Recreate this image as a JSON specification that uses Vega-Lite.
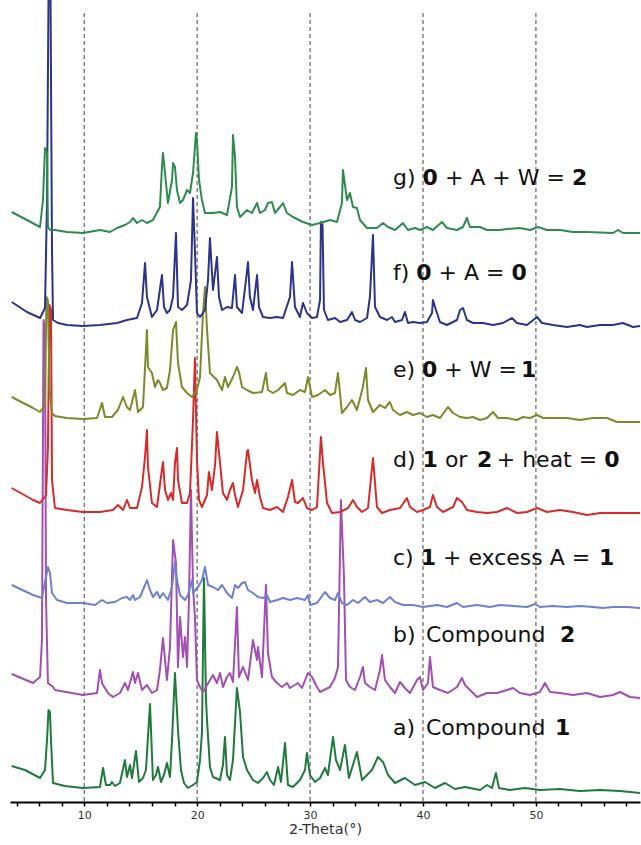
{
"$schema": "https://vega.github.io/schema/vega-lite/v6.json",
"width": 630, "height": 789,
"autosize": {"type": "none"},
"padding": {"left": 10, "top": 13, "right": 1, "bottom": 43},
"background": "white",
"config": {"view": {"stroke": null}},
"datasets": {
"grid": [{"x":10},{"x":20},{"x":30},{"x":40},{"x":50}],
"lab": [
{"s":"g)","b":0,"x":37.34,"y":624},{"s":"0","b":1,"x":39.96,"y":624},{"s":"+ A + W =","b":0,"x":41.94,"y":624},{"s":"2","b":1,"x":53.19,"y":624},
{"s":"f)","b":0,"x":37.34,"y":529},{"s":"0","b":1,"x":39.40,"y":529},{"s":"+ A =","b":0,"x":41.38,"y":529},{"s":"0","b":1,"x":47.84,"y":529},
{"s":"e)","b":0,"x":37.34,"y":432},{"s":"0","b":1,"x":39.92,"y":432},{"s":"+ W =","b":0,"x":41.89,"y":432},{"s":"1","b":1,"x":48.68,"y":432},
{"s":"d)","b":0,"x":37.34,"y":342},{"s":"1","b":1,"x":39.96,"y":342},{"s":"or","b":0,"x":41.94,"y":342},{"s":"2","b":1,"x":44.78,"y":342},{"s":"+ heat =","b":0,"x":46.53,"y":342},{"s":"0","b":1,"x":56.05,"y":342},
{"s":"c)","b":0,"x":37.34,"y":244},{"s":"1","b":1,"x":39.80,"y":244},{"s":"+ excess A =","b":0,"x":41.77,"y":244},{"s":"1","b":1,"x":55.59,"y":244},
{"s":"b)","b":0,"x":37.34,"y":167},{"s":"Compound","b":0,"x":40.26,"y":167},{"s":"2","b":1,"x":52.13,"y":167},
{"s":"a)","b":0,"x":37.34,"y":74},{"s":"Compound","b":0,"x":40.26,"y":74},{"s":"1","b":1,"x":51.69,"y":74}
],
"p": [
{"t":"a","x":3.57,"y":36},{"t":"a","x":4.75,"y":32},{"t":"a","x":6.08,"y":24},{"t":"a","x":6.52,"y":32},{"t":"a","x":6.70,"y":62},{"t":"a","x":6.83,"y":92},{"t":"a","x":6.96,"y":90},{"t":"a","x":7.05,"y":62},{"t":"a","x":7.23,"y":19},{"t":"a","x":8.29,"y":16},{"t":"a","x":9.88,"y":14},{"t":"a","x":11.39,"y":15},{"t":"a","x":11.66,"y":34},{"t":"a","x":11.92,"y":17},{"t":"a","x":12.28,"y":17},{"t":"a","x":12.45,"y":20},{"t":"a","x":12.72,"y":16},{"t":"a","x":13.16,"y":19},{"t":"a","x":13.60,"y":42},{"t":"a","x":13.78,"y":25},{"t":"a","x":14.05,"y":37},{"t":"a","x":14.22,"y":24},{"t":"a","x":14.58,"y":51},{"t":"a","x":14.84,"y":20},{"t":"a","x":15.20,"y":24},{"t":"a","x":15.46,"y":32},{"t":"a","x":15.82,"y":98},{"t":"a","x":16.08,"y":22},{"t":"a","x":16.35,"y":27},{"t":"a","x":16.53,"y":35},{"t":"a","x":16.79,"y":20},{"t":"a","x":17.06,"y":27},{"t":"a","x":17.32,"y":39},{"t":"a","x":17.59,"y":25},{"t":"a","x":17.77,"y":62},{"t":"a","x":18.03,"y":129},{"t":"a","x":18.30,"y":72},{"t":"a","x":18.56,"y":32},{"t":"a","x":18.83,"y":19},{"t":"a","x":19.18,"y":14},{"t":"a","x":19.63,"y":17},{"t":"a","x":19.98,"y":20},{"t":"a","x":20.25,"y":42},{"t":"a","x":20.42,"y":69},{"t":"a","x":20.60,"y":224},{"t":"a","x":20.78,"y":102},{"t":"a","x":20.87,"y":82},{"t":"a","x":21.13,"y":35},{"t":"a","x":21.40,"y":25},{"t":"a","x":22.02,"y":22},{"t":"a","x":22.28,"y":37},{"t":"a","x":22.46,"y":65},{"t":"a","x":22.64,"y":27},{"t":"a","x":22.90,"y":22},{"t":"a","x":23.17,"y":42},{"t":"a","x":23.52,"y":114},{"t":"a","x":23.79,"y":90},{"t":"a","x":24.06,"y":45},{"t":"a","x":24.41,"y":32},{"t":"a","x":24.94,"y":22},{"t":"a","x":25.38,"y":19},{"t":"a","x":25.83,"y":24},{"t":"a","x":26.18,"y":30},{"t":"a","x":26.45,"y":22},{"t":"a","x":26.80,"y":17},{"t":"a","x":27.16,"y":35},{"t":"a","x":27.42,"y":20},{"t":"a","x":27.78,"y":59},{"t":"a","x":28.04,"y":17},{"t":"a","x":28.48,"y":15},{"t":"a","x":29.10,"y":22},{"t":"a","x":29.55,"y":32},{"t":"a","x":29.72,"y":49},{"t":"a","x":29.99,"y":27},{"t":"a","x":30.43,"y":20},{"t":"a","x":30.88,"y":24},{"t":"a","x":31.32,"y":34},{"t":"a","x":31.58,"y":27},{"t":"a","x":32.03,"y":65},{"t":"a","x":32.29,"y":42},{"t":"a","x":32.65,"y":32},{"t":"a","x":33.09,"y":57},{"t":"a","x":33.44,"y":24},{"t":"a","x":34.15,"y":50},{"t":"a","x":34.60,"y":22},{"t":"a","x":35.04,"y":27},{"t":"a","x":35.48,"y":32},{"t":"a","x":36.01,"y":45},{"t":"a","x":36.46,"y":40},{"t":"a","x":36.90,"y":27},{"t":"a","x":37.52,"y":19},{"t":"a","x":38.40,"y":24},{"t":"a","x":39.29,"y":17},{"t":"a","x":40.18,"y":20},{"t":"a","x":41.06,"y":14},{"t":"a","x":41.95,"y":19},{"t":"a","x":42.83,"y":13},{"t":"a","x":43.72,"y":15},{"t":"a","x":45.05,"y":12},{"t":"a","x":45.67,"y":17},{"t":"a","x":46.11,"y":14},{"t":"a","x":46.46,"y":29},{"t":"a","x":46.73,"y":14},{"t":"a","x":47.69,"y":12},{"t":"a","x":49.03,"y":14},{"t":"a","x":50.36,"y":12},{"t":"a","x":52.13,"y":13},{"t":"a","x":53.90,"y":11},{"t":"a","x":55.68,"y":12},{"t":"a","x":57.45,"y":11},{"t":"a","x":59.22,"y":9},
{"t":"b","x":3.57,"y":128},{"t":"b","x":5.46,"y":119},{"t":"b","x":6.08,"y":125},{"t":"b","x":6.25,"y":162},{"t":"b","x":6.39,"y":482},{"t":"b","x":6.52,"y":472},{"t":"b","x":6.61,"y":202},{"t":"b","x":6.78,"y":119},{"t":"b","x":7.23,"y":115},{"t":"b","x":7.40,"y":112},{"t":"b","x":9.88,"y":107},{"t":"b","x":11.13,"y":109},{"t":"b","x":11.39,"y":132},{"t":"b","x":11.57,"y":119},{"t":"b","x":11.66,"y":117},{"t":"b","x":12.10,"y":109},{"t":"b","x":12.54,"y":105},{"t":"b","x":13.16,"y":109},{"t":"b","x":13.60,"y":119},{"t":"b","x":13.87,"y":112},{"t":"b","x":14.31,"y":130},{"t":"b","x":14.49,"y":119},{"t":"b","x":14.76,"y":129},{"t":"b","x":15.11,"y":112},{"t":"b","x":15.55,"y":117},{"t":"b","x":15.99,"y":109},{"t":"b","x":16.44,"y":112},{"t":"b","x":16.70,"y":132},{"t":"b","x":16.97,"y":164},{"t":"b","x":17.32,"y":122},{"t":"b","x":17.59,"y":155},{"t":"b","x":17.86,"y":262},{"t":"b","x":18.12,"y":239},{"t":"b","x":18.30,"y":135},{"t":"b","x":18.48,"y":185},{"t":"b","x":18.74,"y":145},{"t":"b","x":18.92,"y":165},{"t":"b","x":19.10,"y":135},{"t":"b","x":19.27,"y":202},{"t":"b","x":19.45,"y":312},{"t":"b","x":19.63,"y":215},{"t":"b","x":19.80,"y":185},{"t":"b","x":19.98,"y":122},{"t":"b","x":20.25,"y":115},{"t":"b","x":20.51,"y":110},{"t":"b","x":21.40,"y":127},{"t":"b","x":21.75,"y":119},{"t":"b","x":22.02,"y":129},{"t":"b","x":22.28,"y":115},{"t":"b","x":22.64,"y":125},{"t":"b","x":22.90,"y":129},{"t":"b","x":23.17,"y":120},{"t":"b","x":23.52,"y":195},{"t":"b","x":23.70,"y":125},{"t":"b","x":24.06,"y":135},{"t":"b","x":24.50,"y":122},{"t":"b","x":24.94,"y":162},{"t":"b","x":25.30,"y":142},{"t":"b","x":25.38,"y":155},{"t":"b","x":25.74,"y":125},{"t":"b","x":26.09,"y":217},{"t":"b","x":26.27,"y":149},{"t":"b","x":26.62,"y":125},{"t":"b","x":27.07,"y":119},{"t":"b","x":27.51,"y":115},{"t":"b","x":27.95,"y":119},{"t":"b","x":28.22,"y":114},{"t":"b","x":28.93,"y":119},{"t":"b","x":29.28,"y":114},{"t":"b","x":29.81,"y":129},{"t":"b","x":30.17,"y":125},{"t":"b","x":30.61,"y":115},{"t":"b","x":30.88,"y":110},{"t":"b","x":31.76,"y":115},{"t":"b","x":32.20,"y":124},{"t":"b","x":32.47,"y":135},{"t":"b","x":32.73,"y":302},{"t":"b","x":33.00,"y":225},{"t":"b","x":33.18,"y":122},{"t":"b","x":33.53,"y":115},{"t":"b","x":33.98,"y":112},{"t":"b","x":34.42,"y":125},{"t":"b","x":34.68,"y":135},{"t":"b","x":34.86,"y":119},{"t":"b","x":35.30,"y":115},{"t":"b","x":35.75,"y":112},{"t":"b","x":36.19,"y":132},{"t":"b","x":36.37,"y":147},{"t":"b","x":36.63,"y":122},{"t":"b","x":37.07,"y":115},{"t":"b","x":37.52,"y":109},{"t":"b","x":37.96,"y":120},{"t":"b","x":38.40,"y":114},{"t":"b","x":38.85,"y":109},{"t":"b","x":39.47,"y":122},{"t":"b","x":39.73,"y":125},{"t":"b","x":40.00,"y":112},{"t":"b","x":40.44,"y":119},{"t":"b","x":40.62,"y":145},{"t":"b","x":40.88,"y":115},{"t":"b","x":41.50,"y":112},{"t":"b","x":42.21,"y":109},{"t":"b","x":43.01,"y":115},{"t":"b","x":43.45,"y":124},{"t":"b","x":43.72,"y":117},{"t":"b","x":44.16,"y":112},{"t":"b","x":44.78,"y":105},{"t":"b","x":45.67,"y":109},{"t":"b","x":46.55,"y":109},{"t":"b","x":47.44,"y":112},{"t":"b","x":47.97,"y":114},{"t":"b","x":48.59,"y":109},{"t":"b","x":49.48,"y":107},{"t":"b","x":50.36,"y":110},{"t":"b","x":50.80,"y":119},{"t":"b","x":51.25,"y":110},{"t":"b","x":52.13,"y":109},{"t":"b","x":53.28,"y":107},{"t":"b","x":54.52,"y":109},{"t":"b","x":55.68,"y":105},{"t":"b","x":56.83,"y":107},{"t":"b","x":57.45,"y":110},{"t":"b","x":58.33,"y":105},{"t":"b","x":59.22,"y":104},
{"t":"c","x":3.57,"y":217},{"t":"c","x":5.46,"y":207},{"t":"c","x":6.25,"y":204},{"t":"c","x":6.52,"y":220},{"t":"c","x":6.78,"y":235},{"t":"c","x":6.96,"y":229},{"t":"c","x":7.14,"y":209},{"t":"c","x":7.58,"y":202},{"t":"c","x":8.47,"y":199},{"t":"c","x":9.88,"y":199},{"t":"c","x":10.95,"y":197},{"t":"c","x":11.57,"y":202},{"t":"c","x":12.01,"y":199},{"t":"c","x":12.72,"y":200},{"t":"c","x":13.34,"y":204},{"t":"c","x":13.78,"y":205},{"t":"c","x":14.05,"y":202},{"t":"c","x":14.31,"y":207},{"t":"c","x":14.49,"y":202},{"t":"c","x":14.93,"y":205},{"t":"c","x":15.38,"y":217},{"t":"c","x":15.55,"y":222},{"t":"c","x":15.82,"y":212},{"t":"c","x":16.08,"y":205},{"t":"c","x":16.44,"y":210},{"t":"c","x":16.70,"y":204},{"t":"c","x":16.97,"y":209},{"t":"c","x":17.41,"y":202},{"t":"c","x":17.77,"y":215},{"t":"c","x":18.03,"y":240},{"t":"c","x":18.21,"y":222},{"t":"c","x":18.48,"y":207},{"t":"c","x":18.92,"y":202},{"t":"c","x":19.18,"y":207},{"t":"c","x":19.54,"y":222},{"t":"c","x":19.63,"y":209},{"t":"c","x":20.07,"y":215},{"t":"c","x":20.42,"y":222},{"t":"c","x":20.69,"y":235},{"t":"c","x":20.96,"y":217},{"t":"c","x":21.40,"y":215},{"t":"c","x":21.84,"y":212},{"t":"c","x":22.20,"y":217},{"t":"c","x":22.64,"y":209},{"t":"c","x":23.08,"y":204},{"t":"c","x":23.35,"y":217},{"t":"c","x":23.61,"y":214},{"t":"c","x":23.97,"y":219},{"t":"c","x":24.23,"y":220},{"t":"c","x":24.50,"y":212},{"t":"c","x":24.94,"y":209},{"t":"c","x":25.38,"y":205},{"t":"c","x":25.83,"y":204},{"t":"c","x":26.18,"y":207},{"t":"c","x":26.45,"y":200},{"t":"c","x":27.07,"y":202},{"t":"c","x":27.60,"y":204},{"t":"c","x":28.22,"y":202},{"t":"c","x":28.84,"y":204},{"t":"c","x":29.55,"y":202},{"t":"c","x":29.81,"y":207},{"t":"c","x":29.99,"y":197},{"t":"c","x":30.61,"y":199},{"t":"c","x":31.32,"y":210},{"t":"c","x":31.76,"y":204},{"t":"c","x":32.20,"y":202},{"t":"c","x":32.47,"y":209},{"t":"c","x":32.82,"y":199},{"t":"c","x":33.27,"y":197},{"t":"c","x":33.80,"y":202},{"t":"c","x":34.24,"y":199},{"t":"c","x":34.86,"y":205},{"t":"c","x":35.30,"y":200},{"t":"c","x":35.92,"y":202},{"t":"c","x":36.46,"y":199},{"t":"c","x":37.07,"y":205},{"t":"c","x":37.52,"y":200},{"t":"c","x":38.23,"y":197},{"t":"c","x":39.11,"y":197},{"t":"c","x":40.00,"y":195},{"t":"c","x":41.24,"y":197},{"t":"c","x":42.12,"y":195},{"t":"c","x":43.01,"y":199},{"t":"c","x":43.54,"y":195},{"t":"c","x":44.78,"y":197},{"t":"c","x":45.93,"y":195},{"t":"c","x":46.82,"y":197},{"t":"c","x":47.97,"y":196},{"t":"c","x":49.21,"y":195},{"t":"c","x":49.92,"y":198},{"t":"c","x":50.36,"y":195},{"t":"c","x":51.51,"y":196},{"t":"c","x":52.75,"y":195},{"t":"c","x":53.90,"y":196},{"t":"c","x":55.06,"y":195},{"t":"c","x":55.94,"y":194},{"t":"c","x":56.83,"y":195},{"t":"c","x":58.07,"y":195},{"t":"c","x":59.22,"y":194},
{"t":"d","x":3.57,"y":314},{"t":"d","x":5.46,"y":302},{"t":"d","x":6.08,"y":299},{"t":"d","x":6.61,"y":307},{"t":"d","x":6.78,"y":355},{"t":"d","x":6.92,"y":497},{"t":"d","x":7.05,"y":492},{"t":"d","x":7.14,"y":322},{"t":"d","x":7.40,"y":294},{"t":"d","x":8.47,"y":292},{"t":"d","x":9.88,"y":290},{"t":"d","x":11.39,"y":290},{"t":"d","x":12.54,"y":292},{"t":"d","x":12.98,"y":297},{"t":"d","x":13.43,"y":292},{"t":"d","x":13.78,"y":302},{"t":"d","x":14.05,"y":294},{"t":"d","x":14.67,"y":294},{"t":"d","x":15.11,"y":315},{"t":"d","x":15.38,"y":345},{"t":"d","x":15.55,"y":372},{"t":"d","x":15.64,"y":335},{"t":"d","x":15.99,"y":299},{"t":"d","x":16.44,"y":295},{"t":"d","x":16.79,"y":325},{"t":"d","x":16.97,"y":340},{"t":"d","x":17.15,"y":312},{"t":"d","x":17.41,"y":302},{"t":"d","x":17.68,"y":309},{"t":"d","x":17.86,"y":302},{"t":"d","x":18.03,"y":339},{"t":"d","x":18.21,"y":354},{"t":"d","x":18.30,"y":322},{"t":"d","x":18.65,"y":299},{"t":"d","x":19.10,"y":299},{"t":"d","x":19.36,"y":309},{"t":"d","x":19.63,"y":382},{"t":"d","x":19.80,"y":444},{"t":"d","x":19.98,"y":342},{"t":"d","x":20.16,"y":302},{"t":"d","x":20.42,"y":295},{"t":"d","x":20.87,"y":307},{"t":"d","x":21.04,"y":330},{"t":"d","x":21.31,"y":312},{"t":"d","x":21.58,"y":337},{"t":"d","x":21.75,"y":370},{"t":"d","x":22.02,"y":339},{"t":"d","x":22.28,"y":309},{"t":"d","x":22.64,"y":302},{"t":"d","x":22.90,"y":312},{"t":"d","x":23.17,"y":319},{"t":"d","x":23.35,"y":307},{"t":"d","x":23.61,"y":295},{"t":"d","x":24.06,"y":312},{"t":"d","x":24.41,"y":350},{"t":"d","x":24.50,"y":352},{"t":"d","x":24.85,"y":322},{"t":"d","x":25.12,"y":309},{"t":"d","x":25.30,"y":322},{"t":"d","x":25.56,"y":305},{"t":"d","x":25.83,"y":294},{"t":"d","x":26.45,"y":292},{"t":"d","x":27.07,"y":295},{"t":"d","x":27.60,"y":290},{"t":"d","x":28.04,"y":305},{"t":"d","x":28.40,"y":322},{"t":"d","x":28.66,"y":300},{"t":"d","x":28.93,"y":299},{"t":"d","x":29.37,"y":304},{"t":"d","x":29.72,"y":294},{"t":"d","x":30.17,"y":292},{"t":"d","x":30.61,"y":295},{"t":"d","x":30.96,"y":365},{"t":"d","x":31.14,"y":339},{"t":"d","x":31.50,"y":299},{"t":"d","x":31.94,"y":289},{"t":"d","x":32.65,"y":290},{"t":"d","x":33.36,"y":294},{"t":"d","x":33.80,"y":302},{"t":"d","x":34.15,"y":295},{"t":"d","x":34.60,"y":290},{"t":"d","x":35.13,"y":294},{"t":"d","x":35.57,"y":344},{"t":"d","x":35.92,"y":295},{"t":"d","x":36.37,"y":289},{"t":"d","x":37.07,"y":292},{"t":"d","x":37.96,"y":294},{"t":"d","x":38.58,"y":304},{"t":"d","x":38.85,"y":295},{"t":"d","x":39.47,"y":290},{"t":"d","x":40.00,"y":292},{"t":"d","x":40.62,"y":295},{"t":"d","x":40.88,"y":307},{"t":"d","x":41.24,"y":295},{"t":"d","x":41.77,"y":290},{"t":"d","x":42.66,"y":295},{"t":"d","x":43.01,"y":304},{"t":"d","x":43.45,"y":300},{"t":"d","x":43.89,"y":292},{"t":"d","x":44.78,"y":290},{"t":"d","x":45.67,"y":289},{"t":"d","x":46.55,"y":290},{"t":"d","x":47.44,"y":294},{"t":"d","x":48.32,"y":289},{"t":"d","x":49.21,"y":290},{"t":"d","x":50.10,"y":294},{"t":"d","x":50.98,"y":290},{"t":"d","x":52.13,"y":292},{"t":"d","x":53.28,"y":290},{"t":"d","x":54.52,"y":287},{"t":"d","x":55.68,"y":289},{"t":"d","x":56.83,"y":289},{"t":"d","x":58.07,"y":289},{"t":"d","x":59.22,"y":289},
{"t":"e","x":3.57,"y":405},{"t":"e","x":5.46,"y":394},{"t":"e","x":6.08,"y":390},{"t":"e","x":6.52,"y":397},{"t":"e","x":6.65,"y":505},{"t":"e","x":6.78,"y":502},{"t":"e","x":6.92,"y":412},{"t":"e","x":7.14,"y":389},{"t":"e","x":7.40,"y":386},{"t":"e","x":8.47,"y":384},{"t":"e","x":9.88,"y":383},{"t":"e","x":11.13,"y":384},{"t":"e","x":11.57,"y":399},{"t":"e","x":11.83,"y":385},{"t":"e","x":12.45,"y":385},{"t":"e","x":12.98,"y":392},{"t":"e","x":13.43,"y":405},{"t":"e","x":13.78,"y":395},{"t":"e","x":14.05,"y":392},{"t":"e","x":14.49,"y":412},{"t":"e","x":14.76,"y":390},{"t":"e","x":15.20,"y":395},{"t":"e","x":15.55,"y":472},{"t":"e","x":15.64,"y":435},{"t":"e","x":15.99,"y":429},{"t":"e","x":16.26,"y":415},{"t":"e","x":16.53,"y":422},{"t":"e","x":16.70,"y":419},{"t":"e","x":16.97,"y":412},{"t":"e","x":17.32,"y":414},{"t":"e","x":17.59,"y":432},{"t":"e","x":17.86,"y":472},{"t":"e","x":18.12,"y":480},{"t":"e","x":18.30,"y":439},{"t":"e","x":18.65,"y":415},{"t":"e","x":19.10,"y":409},{"t":"e","x":19.54,"y":405},{"t":"e","x":19.98,"y":412},{"t":"e","x":20.25,"y":425},{"t":"e","x":20.51,"y":489},{"t":"e","x":20.69,"y":515},{"t":"e","x":20.87,"y":472},{"t":"e","x":21.13,"y":429},{"t":"e","x":21.75,"y":422},{"t":"e","x":22.20,"y":412},{"t":"e","x":22.46,"y":425},{"t":"e","x":22.73,"y":415},{"t":"e","x":23.17,"y":425},{"t":"e","x":23.52,"y":435},{"t":"e","x":23.70,"y":430},{"t":"e","x":23.97,"y":415},{"t":"e","x":24.41,"y":412},{"t":"e","x":24.94,"y":409},{"t":"e","x":25.74,"y":410},{"t":"e","x":26.09,"y":429},{"t":"e","x":26.27,"y":412},{"t":"e","x":26.71,"y":409},{"t":"e","x":27.16,"y":412},{"t":"e","x":27.78,"y":419},{"t":"e","x":27.95,"y":409},{"t":"e","x":28.48,"y":407},{"t":"e","x":29.10,"y":412},{"t":"e","x":29.55,"y":410},{"t":"e","x":29.81,"y":425},{"t":"e","x":30.17,"y":405},{"t":"e","x":30.70,"y":407},{"t":"e","x":31.32,"y":412},{"t":"e","x":31.76,"y":407},{"t":"e","x":32.20,"y":409},{"t":"e","x":32.47,"y":429},{"t":"e","x":32.82,"y":389},{"t":"e","x":33.27,"y":395},{"t":"e","x":33.71,"y":402},{"t":"e","x":34.15,"y":392},{"t":"e","x":34.68,"y":415},{"t":"e","x":34.95,"y":434},{"t":"e","x":35.13,"y":402},{"t":"e","x":35.57,"y":390},{"t":"e","x":36.19,"y":397},{"t":"e","x":36.63,"y":394},{"t":"e","x":37.07,"y":400},{"t":"e","x":37.34,"y":392},{"t":"e","x":37.96,"y":387},{"t":"e","x":38.58,"y":390},{"t":"e","x":39.11,"y":387},{"t":"e","x":39.73,"y":389},{"t":"e","x":40.35,"y":385},{"t":"e","x":40.88,"y":387},{"t":"e","x":41.50,"y":384},{"t":"e","x":42.21,"y":395},{"t":"e","x":42.66,"y":389},{"t":"e","x":43.28,"y":385},{"t":"e","x":43.89,"y":384},{"t":"e","x":44.43,"y":385},{"t":"e","x":45.05,"y":382},{"t":"e","x":45.67,"y":384},{"t":"e","x":46.20,"y":390},{"t":"e","x":46.64,"y":384},{"t":"e","x":47.44,"y":384},{"t":"e","x":48.32,"y":382},{"t":"e","x":48.85,"y":385},{"t":"e","x":49.48,"y":384},{"t":"e","x":50.10,"y":387},{"t":"e","x":50.63,"y":384},{"t":"e","x":51.51,"y":384},{"t":"e","x":52.75,"y":384},{"t":"e","x":53.90,"y":382},{"t":"e","x":55.06,"y":384},{"t":"e","x":56.30,"y":384},{"t":"e","x":57.18,"y":380},{"t":"e","x":58.33,"y":380},{"t":"e","x":59.22,"y":380},
{"t":"f","x":3.57,"y":500},{"t":"f","x":4.92,"y":490},{"t":"f","x":6.08,"y":484},{"t":"f","x":6.52,"y":494},{"t":"f","x":6.70,"y":602},{"t":"f","x":6.83,"y":805},{"t":"f","x":7.01,"y":805},{"t":"f","x":7.14,"y":552},{"t":"f","x":7.23,"y":482},{"t":"f","x":7.67,"y":479},{"t":"f","x":8.47,"y":477},{"t":"f","x":9.88,"y":476},{"t":"f","x":11.39,"y":477},{"t":"f","x":12.90,"y":479},{"t":"f","x":13.78,"y":482},{"t":"f","x":14.67,"y":484},{"t":"f","x":15.11,"y":499},{"t":"f","x":15.38,"y":539},{"t":"f","x":15.55,"y":505},{"t":"f","x":15.99,"y":485},{"t":"f","x":16.44,"y":492},{"t":"f","x":16.88,"y":527},{"t":"f","x":17.06,"y":495},{"t":"f","x":17.32,"y":489},{"t":"f","x":17.59,"y":492},{"t":"f","x":17.86,"y":505},{"t":"f","x":18.12,"y":569},{"t":"f","x":18.30,"y":495},{"t":"f","x":18.65,"y":492},{"t":"f","x":19.10,"y":497},{"t":"f","x":19.45,"y":522},{"t":"f","x":19.63,"y":604},{"t":"f","x":19.80,"y":552},{"t":"f","x":19.98,"y":489},{"t":"f","x":20.25,"y":485},{"t":"f","x":20.69,"y":492},{"t":"f","x":20.96,"y":522},{"t":"f","x":21.13,"y":564},{"t":"f","x":21.40,"y":512},{"t":"f","x":21.75,"y":545},{"t":"f","x":21.93,"y":505},{"t":"f","x":22.20,"y":492},{"t":"f","x":22.64,"y":495},{"t":"f","x":23.08,"y":494},{"t":"f","x":23.35,"y":527},{"t":"f","x":23.52,"y":495},{"t":"f","x":23.97,"y":489},{"t":"f","x":24.32,"y":522},{"t":"f","x":24.50,"y":540},{"t":"f","x":24.67,"y":505},{"t":"f","x":24.94,"y":492},{"t":"f","x":25.30,"y":527},{"t":"f","x":25.47,"y":495},{"t":"f","x":25.83,"y":485},{"t":"f","x":26.45,"y":484},{"t":"f","x":27.07,"y":485},{"t":"f","x":27.60,"y":484},{"t":"f","x":28.22,"y":505},{"t":"f","x":28.40,"y":540},{"t":"f","x":28.66,"y":495},{"t":"f","x":29.10,"y":485},{"t":"f","x":29.37,"y":499},{"t":"f","x":29.72,"y":489},{"t":"f","x":30.17,"y":484},{"t":"f","x":30.61,"y":485},{"t":"f","x":30.88,"y":502},{"t":"f","x":30.96,"y":580},{"t":"f","x":31.10,"y":577},{"t":"f","x":31.23,"y":492},{"t":"f","x":31.58,"y":482},{"t":"f","x":32.20,"y":484},{"t":"f","x":32.65,"y":480},{"t":"f","x":33.27,"y":482},{"t":"f","x":33.71,"y":490},{"t":"f","x":33.98,"y":482},{"t":"f","x":34.42,"y":480},{"t":"f","x":35.04,"y":484},{"t":"f","x":35.30,"y":505},{"t":"f","x":35.57,"y":567},{"t":"f","x":35.75,"y":495},{"t":"f","x":36.19,"y":485},{"t":"f","x":36.81,"y":482},{"t":"f","x":37.25,"y":485},{"t":"f","x":37.52,"y":480},{"t":"f","x":38.14,"y":482},{"t":"f","x":38.40,"y":490},{"t":"f","x":38.67,"y":479},{"t":"f","x":39.11,"y":480},{"t":"f","x":39.73,"y":479},{"t":"f","x":40.35,"y":480},{"t":"f","x":40.80,"y":489},{"t":"f","x":40.88,"y":502},{"t":"f","x":41.15,"y":492},{"t":"f","x":41.50,"y":480},{"t":"f","x":42.12,"y":477},{"t":"f","x":43.01,"y":482},{"t":"f","x":43.28,"y":492},{"t":"f","x":43.54,"y":494},{"t":"f","x":43.89,"y":482},{"t":"f","x":44.43,"y":479},{"t":"f","x":45.31,"y":479},{"t":"f","x":46.20,"y":477},{"t":"f","x":47.08,"y":479},{"t":"f","x":47.88,"y":484},{"t":"f","x":48.32,"y":479},{"t":"f","x":49.21,"y":477},{"t":"f","x":50.10,"y":485},{"t":"f","x":50.54,"y":479},{"t":"f","x":51.51,"y":477},{"t":"f","x":52.75,"y":475},{"t":"f","x":53.90,"y":477},{"t":"f","x":54.52,"y":475},{"t":"f","x":55.68,"y":477},{"t":"f","x":56.83,"y":477},{"t":"f","x":57.71,"y":479},{"t":"f","x":58.60,"y":475},{"t":"f","x":59.22,"y":476},
{"t":"g","x":3.57,"y":590},{"t":"g","x":4.92,"y":582},{"t":"g","x":6.08,"y":575},{"t":"g","x":6.34,"y":602},{"t":"g","x":6.52,"y":654},{"t":"g","x":6.70,"y":649},{"t":"g","x":6.78,"y":575},{"t":"g","x":6.96,"y":572},{"t":"g","x":7.40,"y":572},{"t":"g","x":8.47,"y":570},{"t":"g","x":9.88,"y":569},{"t":"g","x":11.39,"y":572},{"t":"g","x":12.28,"y":570},{"t":"g","x":12.90,"y":574},{"t":"g","x":13.60,"y":577},{"t":"g","x":14.05,"y":580},{"t":"g","x":14.31,"y":584},{"t":"g","x":14.67,"y":579},{"t":"g","x":15.11,"y":582},{"t":"g","x":15.55,"y":579},{"t":"g","x":16.08,"y":582},{"t":"g","x":16.70,"y":595},{"t":"g","x":16.88,"y":635},{"t":"g","x":16.97,"y":649},{"t":"g","x":17.15,"y":629},{"t":"g","x":17.41,"y":599},{"t":"g","x":17.77,"y":622},{"t":"g","x":17.86,"y":639},{"t":"g","x":18.03,"y":635},{"t":"g","x":18.21,"y":612},{"t":"g","x":18.48,"y":599},{"t":"g","x":18.74,"y":602},{"t":"g","x":19.10,"y":612},{"t":"g","x":19.36,"y":609},{"t":"g","x":19.63,"y":629},{"t":"g","x":19.89,"y":669},{"t":"g","x":19.98,"y":662},{"t":"g","x":20.16,"y":622},{"t":"g","x":20.42,"y":602},{"t":"g","x":20.69,"y":589},{"t":"g","x":21.40,"y":589},{"t":"g","x":22.02,"y":590},{"t":"g","x":22.64,"y":587},{"t":"g","x":23.08,"y":615},{"t":"g","x":23.17,"y":667},{"t":"g","x":23.35,"y":645},{"t":"g","x":23.52,"y":595},{"t":"g","x":23.79,"y":585},{"t":"g","x":24.41,"y":592},{"t":"g","x":24.85,"y":589},{"t":"g","x":25.30,"y":599},{"t":"g","x":25.56,"y":589},{"t":"g","x":26.00,"y":592},{"t":"g","x":26.27,"y":599},{"t":"g","x":26.62,"y":600},{"t":"g","x":26.89,"y":589},{"t":"g","x":27.33,"y":595},{"t":"g","x":27.60,"y":599},{"t":"g","x":27.95,"y":589},{"t":"g","x":28.48,"y":585},{"t":"g","x":29.37,"y":580},{"t":"g","x":30.17,"y":577},{"t":"g","x":30.88,"y":579},{"t":"g","x":31.76,"y":582},{"t":"g","x":32.38,"y":580},{"t":"g","x":32.82,"y":599},{"t":"g","x":32.91,"y":632},{"t":"g","x":33.27,"y":602},{"t":"g","x":33.53,"y":609},{"t":"g","x":33.80,"y":595},{"t":"g","x":34.15,"y":594},{"t":"g","x":34.42,"y":582},{"t":"g","x":35.04,"y":574},{"t":"g","x":35.92,"y":574},{"t":"g","x":36.46,"y":579},{"t":"g","x":36.90,"y":575},{"t":"g","x":37.52,"y":572},{"t":"g","x":38.23,"y":579},{"t":"g","x":38.67,"y":572},{"t":"g","x":39.29,"y":574},{"t":"g","x":39.73,"y":572},{"t":"g","x":40.35,"y":575},{"t":"g","x":40.88,"y":572},{"t":"g","x":41.68,"y":580},{"t":"g","x":42.12,"y":574},{"t":"g","x":43.01,"y":572},{"t":"g","x":43.54,"y":575},{"t":"g","x":43.89,"y":584},{"t":"g","x":44.16,"y":575},{"t":"g","x":45.05,"y":575},{"t":"g","x":45.67,"y":572},{"t":"g","x":46.82,"y":572},{"t":"g","x":47.44,"y":573},{"t":"g","x":48.59,"y":574},{"t":"g","x":49.48,"y":572},{"t":"g","x":50.19,"y":575},{"t":"g","x":50.98,"y":572},{"t":"g","x":52.13,"y":572},{"t":"g","x":53.28,"y":570},{"t":"g","x":54.52,"y":570},{"t":"g","x":56.83,"y":569},{"t":"g","x":57.27,"y":572},{"t":"g","x":57.71,"y":569},{"t":"g","x":59.22,"y":569}
]
},
"encoding": {
  "x": {"field": "x", "type": "quantitative",
    "scale": {"domain": [3.42, 59.22], "nice": false, "zero": false},
    "axis": {"values": [4,6,8,10,12,14,16,18,20,22,24,26,28,30,32,34,36,38,40,42,44,46,48,50,52,54,56,58],
      "labelExpr": "datum.value % 10 === 0 ? datum.label : ''",
      "grid": false, "tickSize": 4, "tickColor": "#000", "tickWidth": 1.5,
      "domainColor": "#000", "domainWidth": 2,
      "labelFont": "DejaVu Sans", "labelFontSize": 11, "labelColor": "#333", "labelPadding": 3,
      "labelOverlap": false, "labelFlush": false,
      "title": "2-Theta(°)", "titleFont": "DejaVu Sans", "titleFontSize": 14.5, "titleFontWeight": "normal", "titleColor": "#333", "titlePadding": 2}}
},
"layer": [
  {"data": {"name": "grid"},
   "mark": {"type": "rule", "strokeDash": [4, 3], "color": "#7a7a7a", "strokeWidth": 1.4},
   "encoding": {}},
  {"data": {"name": "p"},
   "mark": {"type": "line", "strokeWidth": 2, "clip": false, "strokeJoin": "round"},
   "encoding": {
     "y": {"field": "y", "type": "quantitative", "scale": {"domain": [0, 789], "nice": false, "zero": false}, "axis": null},
     "color": {"field": "t", "type": "nominal", "legend": null,
       "scale": {"domain": ["a","b","c","d","e","f","g"], "range": ["#1f7a3c","#a24fb2","#6e80cf","#d62b2b","#7c8a2a","#2b3488","#2e8b4e"]}}}},
  {"data": {"name": "lab"},
   "transform": [{"filter": "datum.b == 0"}],
   "mark": {"type": "text", "align": "left", "baseline": "middle", "font": "DejaVu Sans", "fontSize": 22, "color": "#111"},
   "encoding": {
     "y": {"field": "y", "type": "quantitative", "scale": {"domain": [0, 789], "nice": false, "zero": false}, "axis": null},
     "text": {"field": "s"}}},
  {"data": {"name": "lab"},
   "transform": [{"filter": "datum.b == 1"}],
   "mark": {"type": "text", "align": "left", "baseline": "middle", "font": "DejaVu Sans", "fontSize": 22, "fontWeight": "bold", "color": "#111"},
   "encoding": {
     "y": {"field": "y", "type": "quantitative", "scale": {"domain": [0, 789], "nice": false, "zero": false}, "axis": null},
     "text": {"field": "s"}}}
]
}
